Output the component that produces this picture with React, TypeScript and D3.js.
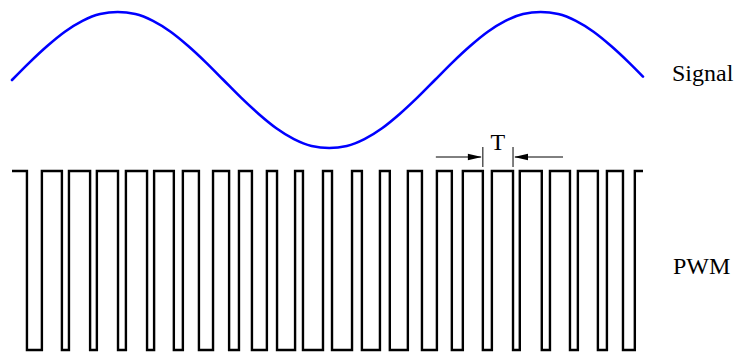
import React from 'react';
import * as d3 from 'd3';

// Signal samples (time in PWM periods, amplitude normalized)
const signalTime = [0, 0.625, 1.25, 1.875, 2.5, 3.125, 3.75, 4.375, 5, 5.625, 6.25, 6.875, 7.5, 8.125, 8.75, 9.375, 10, 10.625, 11.25, 11.875, 12.5, 13.125, 13.75, 14.375, 15, 15.625, 16.25, 16.875, 17.5, 18.125, 18.75, 19.375, 20, 20.625, 21.25, 21.875, 22.38];
const signalValue = [0, 0.26, 0.5, 0.71, 0.87, 0.97, 1, 0.97, 0.87, 0.71, 0.5, 0.26, 0, -0.26, -0.5, -0.71, -0.87, -0.97, -1, -0.97, -0.87, -0.71, -0.5, -0.26, 0, 0.26, 0.5, 0.71, 0.87, 0.97, 1, 0.97, 0.87, 0.71, 0.5, 0.26, 0.05];

// PWM pulses: rising and falling edge times
const pulseStart = [0, 1.06, 2.02, 3.01, 4.04, 5.04, 6.06, 7.13, 8.05, 9.04, 10.04, 11.03, 12.06, 13.05, 14.04, 15.07, 15.99, 17.02, 18.01, 19.08, 20.07, 21.10, 22.09];
const pulseEnd = [0.53, 1.77, 2.77, 3.76, 4.79, 5.74, 6.63, 7.70, 8.51, 9.40, 10.32, 11.35, 12.41, 13.40, 14.54, 15.60, 16.70, 17.77, 18.79, 19.79, 20.78, 21.67, 22.38];

// Period marker (T)
const periodMarker = [16.70, 17.77];
const periodLabel = 'T';
const rowLabels = ['Signal', 'PWM'];
const timeDomain = [0, 22.38];

export default function App() {
  const W = 740, H = 353;
  const x = d3.scaleLinear().domain(timeDomain).range([12, 643]);
  const ySig = d3.scaleLinear().domain([-1, 1]).range([148, 12]);
  const yPwm = d3.scaleLinear().domain([0, 1]).range([350, 171]);

  const sigPts: [number, number][] = signalTime.map((t, i) => [t, signalValue[i]]);
  const sigPath = d3.line<[number, number]>()
    .x(d => x(d[0]))
    .y(d => ySig(d[1]))
    .curve(d3.curveMonotoneX)(sigPts) || '';

  const pwmPts: [number, number][] = [];
  pulseStart.forEach((s, i) => {
    const last = i === pulseStart.length - 1;
    pwmPts.push([s, 1]);
    pwmPts.push([pulseEnd[i], last ? 1 : 0]);
  });
  const pwmPath = d3.line<[number, number]>()
    .x(d => x(d[0]))
    .y(d => yPwm(d[1]))
    .curve(d3.curveStepAfter)(pwmPts) || '';

  const xa = x(periodMarker[0]);
  const xb = x(periodMarker[1]);
  const ay = 157;
  const headL = 14, headH = 3.2;
  const textStyle: React.CSSProperties = {
    fontFamily: "'Liberation Serif', 'Times New Roman', Times, 'DejaVu Serif', serif",
    fontSize: '24px',
  };

  return (
    <div style={{ position: 'absolute', left: 0, top: 0 }}>
      <svg width={W} height={H} style={{ display: 'block', background: '#fff' }}>
        <path d={sigPath} fill="none" stroke="#0000ff" strokeWidth={2.6} strokeLinecap="round" />
        <path d={pwmPath} fill="none" stroke="#000" strokeWidth={2.4} strokeLinejoin="miter" />
        {/* T marker */}
        <line x1={xa} x2={xa} y1={147} y2={167} stroke="#000" strokeWidth={1} />
        <line x1={xb} x2={xb} y1={147} y2={167} stroke="#000" strokeWidth={1} />
        <line x1={xa - 47} x2={xa - 2} y1={ay} y2={ay} stroke="#000" strokeWidth={1} />
        <polygon points={`${xa - 1},${ay} ${xa - 1 - headL},${ay - headH} ${xa - 1 - headL},${ay + headH}`} fill="#000" />
        <line x1={xb + 2} x2={xb + 50} y1={ay} y2={ay} stroke="#000" strokeWidth={1} />
        <polygon points={`${xb + 1},${ay} ${xb + 1 + headL},${ay - headH} ${xb + 1 + headL},${ay + headH}`} fill="#000" />
        <text x={(xa + xb) / 2} y={150} textAnchor="middle" style={textStyle} fill="#000">{periodLabel}</text>
        <text x={672} y={81} style={textStyle} fill="#000">{rowLabels[0]}</text>
        <text x={673} y={274} style={textStyle} fill="#000">{rowLabels[1]}</text>
      </svg>
    </div>
  );
}
